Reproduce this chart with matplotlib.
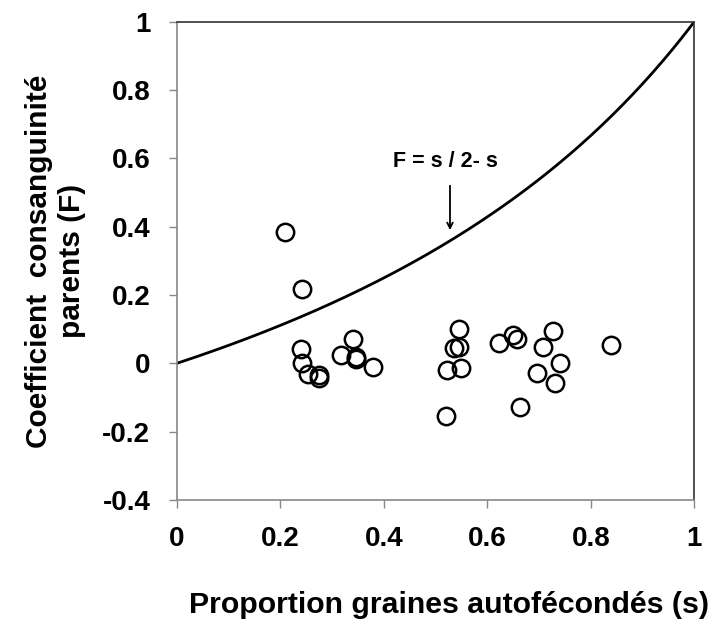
import numpy as np
import matplotlib
matplotlib.use("Agg")
import matplotlib.pyplot as plt

plt.rcParams['font.family'] = ['Liberation Sans', 'DejaVu Sans']
plt.rcParams['font.weight'] = 'bold'

# proportion graines autofecondees (s) et coefficient de consanguinite (F)
s_obs = [0.209, 0.243, 0.240, 0.242, 0.253, 0.275, 0.275, 0.317, 0.341, 0.346,
         0.346, 0.380, 0.521, 0.522, 0.545, 0.535, 0.545, 0.549, 0.623, 0.650,
         0.658, 0.663, 0.696, 0.707, 0.728, 0.740, 0.731, 0.839]
F_obs = [0.385, 0.219, 0.043, 0.002, -0.032, -0.034, -0.043, 0.024, 0.071, 0.020,
         0.012, -0.012, -0.153, -0.019, 0.100, 0.045, 0.049, -0.013, 0.059, 0.084,
         0.072, -0.128, -0.027, 0.049, 0.094, 0.002, -0.058, 0.053]

xticks = [0, 0.2, 0.4, 0.6, 0.8, 1]
yticks = [-0.4, -0.2, 0, 0.2, 0.4, 0.6, 0.8, 1]

fig = plt.figure(figsize=(7.12, 6.21), dpi=100)
ax = fig.add_axes([0.2482, 0.1948, 0.9751 - 0.2482, 0.965 - 0.1948])

# courbe theorique F = s / (2 - s)
s = np.linspace(0, 1, 200)
ax.plot(s, s / (2 - s), color='black', lw=2)

ax.plot(s_obs, F_obs, 'o', mfc='none', mec='black', ms=12.5, mew=1.8)

ax.text(0.52, 0.592, 'F = s / 2- s', ha='center', va='center',
        fontsize=15.5, fontweight='bold')
ax.annotate('', xy=(0.528, 0.39), xytext=(0.528, 0.52),
            arrowprops=dict(arrowstyle='->', color='black', lw=1.3,
                            shrinkA=0, shrinkB=0))

ax.set_xlim(0, 1)
ax.set_ylim(-0.4, 1)
ax.set_xticks(xticks)
ax.set_yticks(yticks)
ax.set_xticklabels(['0', '0.2', '0.4', '0.6', '0.8', '1'])
ax.set_yticklabels(['-0.4', '-0.2', '0', '0.2', '0.4', '0.6', '0.8', '1'])
ax.tick_params(labelsize=20, length=6, width=1, color='#888888', pad=13)

for side in ['left', 'bottom']:
    ax.spines[side].set_color('#888888')
    ax.spines[side].set_linewidth(1.2)
for side in ['top', 'right']:
    ax.spines[side].set_color('#333333')
    ax.spines[side].set_linewidth(1.2)

ax.set_xlabel('Proportion graines autofécondés (s)', fontsize=21.8,
              fontweight='bold')
ax.xaxis.set_label_coords(0.526, -0.19)
ax.set_ylabel('Coefficient  consanguinité\nparents (F)', fontsize=21.5,
              fontweight='bold', labelpad=12, linespacing=1.22)

fig.savefig('out.png', dpi=100)
